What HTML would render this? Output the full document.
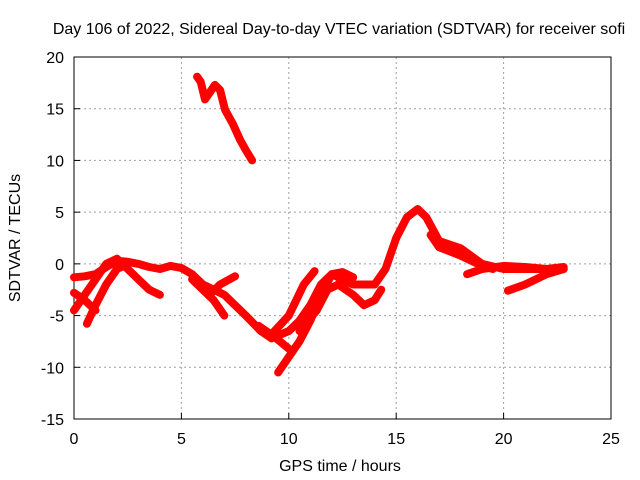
<!DOCTYPE html>
<html><head><meta charset="utf-8"><style>
body{margin:0;background:#fff;}
svg{display:block;font-family:"Liberation Sans",sans-serif;}
</style></head><body>
<svg id="chart" width="640" height="480"></svg>
<script>
const xTicks=[0,5,10,15,20,25];
const yTicks=[20,15,10,5,0,-5,-10,-15];
const traceTopX=[5.73,5.9,6.1,6.3,6.56,6.8,7.03,7.4,7.73,8.0,8.29];
const traceTopY=[18.1,17.6,15.9,16.5,17.3,16.8,14.9,13.5,12,11,10];
const traceMainX=[0,0.5,1,1.5,2,2.5,3,3.5,4,4.5,5,5.5,6,7,8,8.7,9.2];
const traceMainY=[-1.3,-1.2,-1,-0.3,0.3,0.2,0,-0.3,-0.5,-0.2,-0.4,-1,-2,-3,-5,-6.5,-7.2];
const traceRiseX=[9.2,10,10.5,11,11.5,12,12.5,13,14,14.5,15,15.5,16,16.4,17,18,19,20,21,22,22.8];
const traceRiseY=[-7.2,-6.5,-5.5,-4,-2,-1,-1.5,-2,-2,-0.5,2.5,4.5,5.3,4.5,2.2,1.5,0,-0.5,-0.5,-0.5,-0.3];
const traceFallX=[16.6,17,17.5,18,18.5,19,19.5];
const traceFallY=[2.8,1.6,1.2,0.8,0.3,-0.2,-0.5];
const traceA_X=[0,0.5,1,1.5,2,2.5,3,3.5,4];
const traceA_Y=[-4.5,-3,-1.5,0,0.5,-0.5,-1.5,-2.5,-3];
const traceB_X=[0.6,1,1.5,2,2.5];
const traceB_Y=[-5.8,-4,-2,-0.5,0];
const traceC_X=[0,0.5,1];
const traceC_Y=[-2.8,-3.5,-4.5];
const traceD_X=[5.5,6,6.5,7];
const traceD_Y=[-1.5,-2.5,-3.5,-5];
const traceE_X=[6.3,6.8,7.5];
const traceE_Y=[-3,-2,-1.2];
const traceF_X=[9.5,10,10.5,11,11.5,12,12.5,13];
const traceF_Y=[-10.5,-9,-7.5,-5.5,-3,-1,-0.8,-1.3];
const traceG_X=[9.2,10,10.7,11.2];
const traceG_Y=[-6.8,-5,-2,-0.7];
const traceH_X=[10.5,11.3,11.8,12.3,13,13.5,14,14.3];
const traceH_Y=[-6.5,-4.5,-2.5,-2,-3,-4,-3.5,-2.5];
const traceI_X=[8.6,9.3,10];
const traceI_Y=[-6,-7,-8.2];
const traceJ_X=[18.3,19,20,21,22,22.8];
const traceJ_Y=[-1,-0.5,-0.2,-0.3,-0.5,-0.5];
const traceK_X=[20.2,21,22,22.8];
const traceK_Y=[-2.6,-2,-1,-0.5];
const traces=[[traceTopX,traceTopY],[traceMainX,traceMainY],[traceRiseX,traceRiseY],[traceFallX,traceFallY],[traceA_X,traceA_Y],[traceB_X,traceB_Y],[traceC_X,traceC_Y],[traceD_X,traceD_Y],[traceE_X,traceE_Y],[traceF_X,traceF_Y],[traceG_X,traceG_Y],[traceH_X,traceH_Y],[traceI_X,traceI_Y],[traceJ_X,traceJ_Y],[traceK_X,traceK_Y]];

const L=74,R=611,T=57,B=419;
const sx=v=>L+(v-0)/25*(R-L);
const sy=v=>T+(20-v)/35*(B-T);
const svg=document.getElementById('chart');
const NS='http://www.w3.org/2000/svg';
function mk(tag,attrs,parent){const e=document.createElementNS(NS,tag);for(const k in attrs)e.setAttribute(k,attrs[k]);(parent||svg).appendChild(e);return e;}

xTicks.forEach(t=>{
  const x=sx(t);
  if(t>0&&t<25){const g=mk('line',{x1:x,y1:T,x2:x,y2:B,stroke:'#a0a0a0','stroke-dasharray':'2,3'});
  
  }
  const tk=mk('line',{x1:x,y1:B,x2:x,y2:B-6,stroke:'#000'});
  
  
  const tx=mk('text',{x:x,y:B+25,'text-anchor':'middle','font-size':16});
  tx.textContent=t;
  
  
});
yTicks.forEach(t=>{
  const y=sy(t);
  if(t>-15&&t<20){const g=mk('line',{x1:L,y1:y,x2:R,y2:y,stroke:'#a0a0a0','stroke-dasharray':'2,3'});
  
  }
  const tk=mk('line',{x1:L,y1:y,x2:L+6,y2:y,stroke:'#000'});
  
  
  const tx=mk('text',{x:L-10,y:y+6,'text-anchor':'end','font-size':16});
  tx.textContent=t;
  
  
});
const frame=mk('rect',{x:L,y:T,width:R-L,height:B-T,fill:'none',stroke:'#000'});



traces.forEach(([xs,ys])=>{
  const pts=xs.map((x,i)=>sx(x).toFixed(1)+','+sy(ys[i]).toFixed(1)).join(' ');
  const p=mk('polyline',{points:pts,fill:'none',stroke:'#ff0000','stroke-width':8,'stroke-linejoin':'round','stroke-linecap':'round'});
  
  
});

const title=mk('text',{x:339,y:34,'text-anchor':'middle','font-size':16});
title.textContent='Day 106 of 2022, Sidereal Day-to-day VTEC variation (SDTVAR) for receiver sofi';


const xl=mk('text',{x:340,y:471,'text-anchor':'middle','font-size':16});
xl.textContent='GPS time / hours';


const yl=mk('text',{x:20,y:238,'text-anchor':'middle','font-size':16,transform:'rotate(-90 20 238)'});
yl.textContent='SDTVAR / TECUs';


</script>
</body></html>
